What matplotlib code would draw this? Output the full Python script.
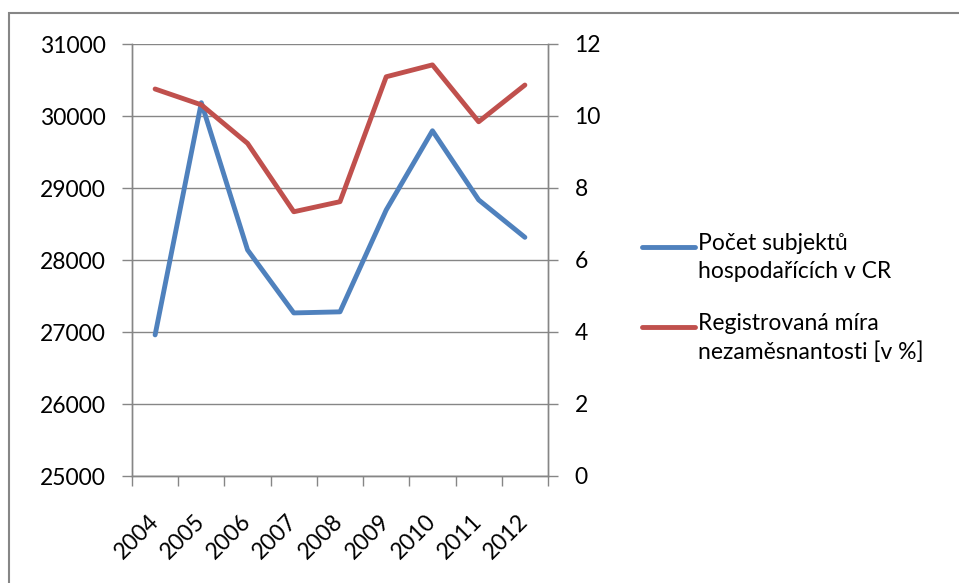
import numpy as np
import matplotlib
matplotlib.use('Agg')
from matplotlib import pyplot as plt
from matplotlib.lines import Line2D
from matplotlib.patches import Rectangle

years = ['2004', '2005', '2006', '2007', '2008', '2009', '2010', '2011', '2012']
subjekty = [26960, 30185, 28140, 27265, 27280, 28695, 29795, 28835, 28315]
nezamestnanost = [10.75, 10.31, 9.24, 7.34, 7.62, 11.09, 11.42, 9.84, 10.86]

label_subjekty = 'Počet subjektů\nhospodařících v CR'
label_nezam = 'Registrovaná míra\nnezaměsnantosti [v %]'

blue = '#4F81BD'
red = '#C0504D'
grey = '#868686'

plt.rcParams['font.family'] = ['Lato', 'DejaVu Sans']
plt.rcParams['font.size'] = 16.5

fig = plt.figure(figsize=(9.59, 5.83), dpi=100)
fig.patches.append(Rectangle((9 / 959, -0.1), 1.2, 1 - 13 / 583 + 0.1,
                             transform=fig.transFigure, fill=False,
                             edgecolor=grey, linewidth=1.5))

ax = fig.add_axes([132 / 959, 1 - 476 / 583, 416 / 959, 432 / 583])
ax2 = ax.twinx()

x = np.arange(len(years))
ax.plot(x, subjekty, color=blue, linewidth=3.5, solid_capstyle='round')
ax2.plot(x, nezamestnanost, color=red, linewidth=3.5, solid_capstyle='round')

ax.set_xlim(-0.5, len(years) - 0.5)
ax.set_ylim(25000, 31000)
ax.set_yticks(np.arange(25000, 31001, 1000))
ax2.set_ylim(0, 12)
ax2.set_yticks(np.arange(0, 13, 2))

ax.yaxis.grid(True, color=grey, linewidth=1)
ax.set_axisbelow(True)

for a in (ax, ax2):
    a.spines['top'].set_visible(False)
    for s in ('left', 'right', 'bottom'):
        a.spines[s].set_color(grey)
        a.spines[s].set_linewidth(1)

ax.set_xticks(np.arange(-0.5, len(years)), minor=False)
ax.set_xticklabels([])
ax.set_xticks(x, minor=True)
ax.set_xticklabels(years, minor=True, rotation=45, ha='right', va='center',
                   rotation_mode='anchor')
ax.tick_params(axis='x', which='major', length=7, color=grey, width=1)
ax.tick_params(axis='x', which='minor', length=0, pad=30)
ax.tick_params(axis='y', length=7, color=grey, width=1, pad=12)
ax2.tick_params(axis='y', length=7, color=grey, width=1, pad=12)

# legenda
entries = [(blue, label_subjekty, 247), (red, label_nezam, 327)]
for color, text, ypx in entries:
    yf = 1 - ypx / 583
    fig.add_artist(Line2D([642 / 959, 695 / 959], [yf, yf], color=color,
                          linewidth=3.5, solid_capstyle='round',
                          transform=fig.transFigure))
    fig.text(698 / 959, yf + 14 / 583, text, va='top', ha='left',
             linespacing=1.4)

fig.savefig('out.png', dpi=100)
